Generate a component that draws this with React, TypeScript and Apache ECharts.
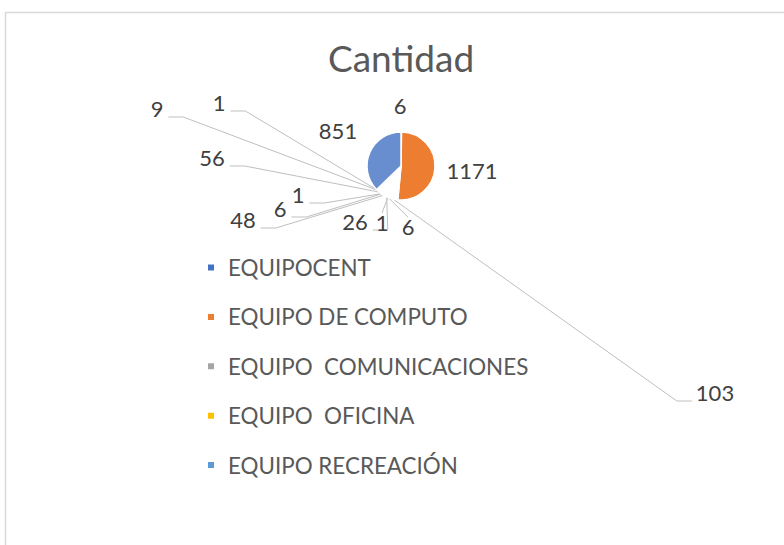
import React, { useEffect, useRef } from "react";
import * as echarts from "echarts";

// Categories and their counts, in slice order (clockwise from 12 o'clock)
const categories = [
  "EQUIPOCENT",
  "EQUIPO DE COMPUTO",
  "EQUIPO  COMUNICACIONES",
  "EQUIPO  OFICINA",
  "EQUIPO RECREACIÓN",
  "Categoría 6",
  "Categoría 7",
  "Categoría 8",
  "Categoría 9",
  "Categoría 10",
  "Categoría 11",
  "Categoría 12",
  "Categoría 13",
];
const cantidad = [6, 1171, 103, 6, 1, 26, 48, 6, 1, 56, 9, 1, 851];

// Only these categories are listed in the legend
const legendNames = categories.slice(0, 5);

// Office palette
const palette = [
  "#4472C4", "#ED7D31", "#A5A5A5", "#FFC000", "#5B9BD5", "#70AD47",
  "#264478", "#9E480E", "#636363", "#997300", "#255E91", "#43682B", "#698ED0",
];
// Slices drawn with their colour; the rest render blank
const filledSlices = [1, 12];
// Labels that sit next to their slice with no leader line
const plainLabels = [0, 1, 12];

// Label centres (px) for each slice, same order as the data
const labelSpots: [number, number][] = [
  [400, 105], [472, 170], [715, 392], [408, 226], [382, 222], [355, 221],
  [243, 219], [280, 208], [298, 194], [212, 157], [157, 108], [219, 102],
  [338, 130],
];

const PIE_CX = 401;
const PIE_CY = 166;
const PIE_R = 34;

export default function App() {
  const ref = useRef<HTMLDivElement>(null);

  useEffect(() => {
    if (!ref.current) return;
    const chart = echarts.init(ref.current, null, { renderer: "svg" });
    const total = cantidad.reduce((a, b) => a + b, 0);

    // Point on the pie's rim at the middle of slice i
    const rimPoint = (i: number): number[] => {
      const before = cantidad.slice(0, i).reduce((a, b) => a + b, 0);
      const mid = ((before + cantidad[i] / 2) / total) * Math.PI * 2;
      return [PIE_CX + PIE_R * Math.sin(mid), PIE_CY - PIE_R * Math.cos(mid)];
    };

    const font = "Lato, 'Noto Sans', sans-serif";

    chart.setOption({
      animation: false,
      backgroundColor: "#FFFFFF",
      title: {
        text: "Cantidad",
        left: 328,
        top: 39,
        padding: 0,
        textStyle: {
          fontFamily: font,
          fontSize: 37,
          fontWeight: "normal",
          color: "#595959",
        },
      },
      graphic: [
        {
          type: "rect",
          silent: true,
          z: -10,
          shape: { x: 5.5, y: 12.5, width: 900, height: 700 },
          style: { fill: "none", stroke: "#D9D9D9", lineWidth: 1.5 },
        },
      ],
      legend: {
        orient: "vertical",
        left: 206,
        top: 255.5,
        padding: 0,
        itemWidth: 8,
        itemHeight: 8,
        itemGap: 25.4,
        icon: "rect",
        selectedMode: false,
        data: legendNames.map((name, i) => ({
          name,
          itemStyle: { color: palette[i] },
        })),
        textStyle: {
          fontFamily: font,
          fontSize: 22.4,
          lineHeight: 24,
          color: "#595959",
          padding: [0, 0, 0, 8],
        },
      },
      series: [
        {
          type: "pie",
          center: [PIE_CX, PIE_CY],
          radius: PIE_R,
          startAngle: 90,
          clockwise: true,
          avoidLabelOverlap: false,
          itemStyle: { borderColor: "#FFFFFF", borderWidth: 1.5 },
          label: {
            show: true,
            formatter: "{c}",
            fontFamily: font,
            fontSize: 22,
            color: "#404040",
          },
          labelLine: {
            show: true,
            length: 10,
            length2: 10,
            lineStyle: { color: "#BFBFBF", width: 1 },
          },
          labelLayout: (params: any) => {
            const i = params.dataIndex;
            const [cx, cy] = labelSpots[i];
            const w = params.labelRect.width;
            const h = params.labelRect.height;
            const out: any = { x: cx, y: cy, align: "center", verticalAlign: "middle" };
            if (plainLabels.includes(i)) return out;
            const start =
              params.labelLinePoints && params.labelLinePoints[0]
                ? params.labelLinePoints[0]
                : rimPoint(i);
            let pts: number[][];
            if (cx < PIE_CX - 30) {
              // label to the left: horizontal stub at its right
              const ex = cx + w / 2 + 5;
              const ey = cy + 9;
              pts = [start, [ex + 15, ey], [ex, ey]];
            } else if (cx > PIE_CX + 60) {
              // label far right: horizontal stub at its left
              const ex = cx - w / 2 - 4;
              const ey = cy + 9;
              pts = [start, [ex - 15, ey], [ex, ey]];
            } else {
              // labels just below the pie
              const top = [cx, cy - h / 2 + 2];
              pts = [start, top, top];
            }
            out.labelLinePoints = pts;
            return out;
          },
          data: cantidad.map((value, i) => ({
            name: categories[i],
            value,
            itemStyle: {
              color: filledSlices.includes(i) ? palette[i] : "#FFFFFF",
            },
            labelLine: { show: !plainLabels.includes(i) },
          })),
        },
      ],
    });

    return () => chart.dispose();
  }, []);

  return (
    <div
      ref={ref}
      style={{ position: "fixed", left: 0, top: 0, width: 784, height: 545 }}
    />
  );
}
